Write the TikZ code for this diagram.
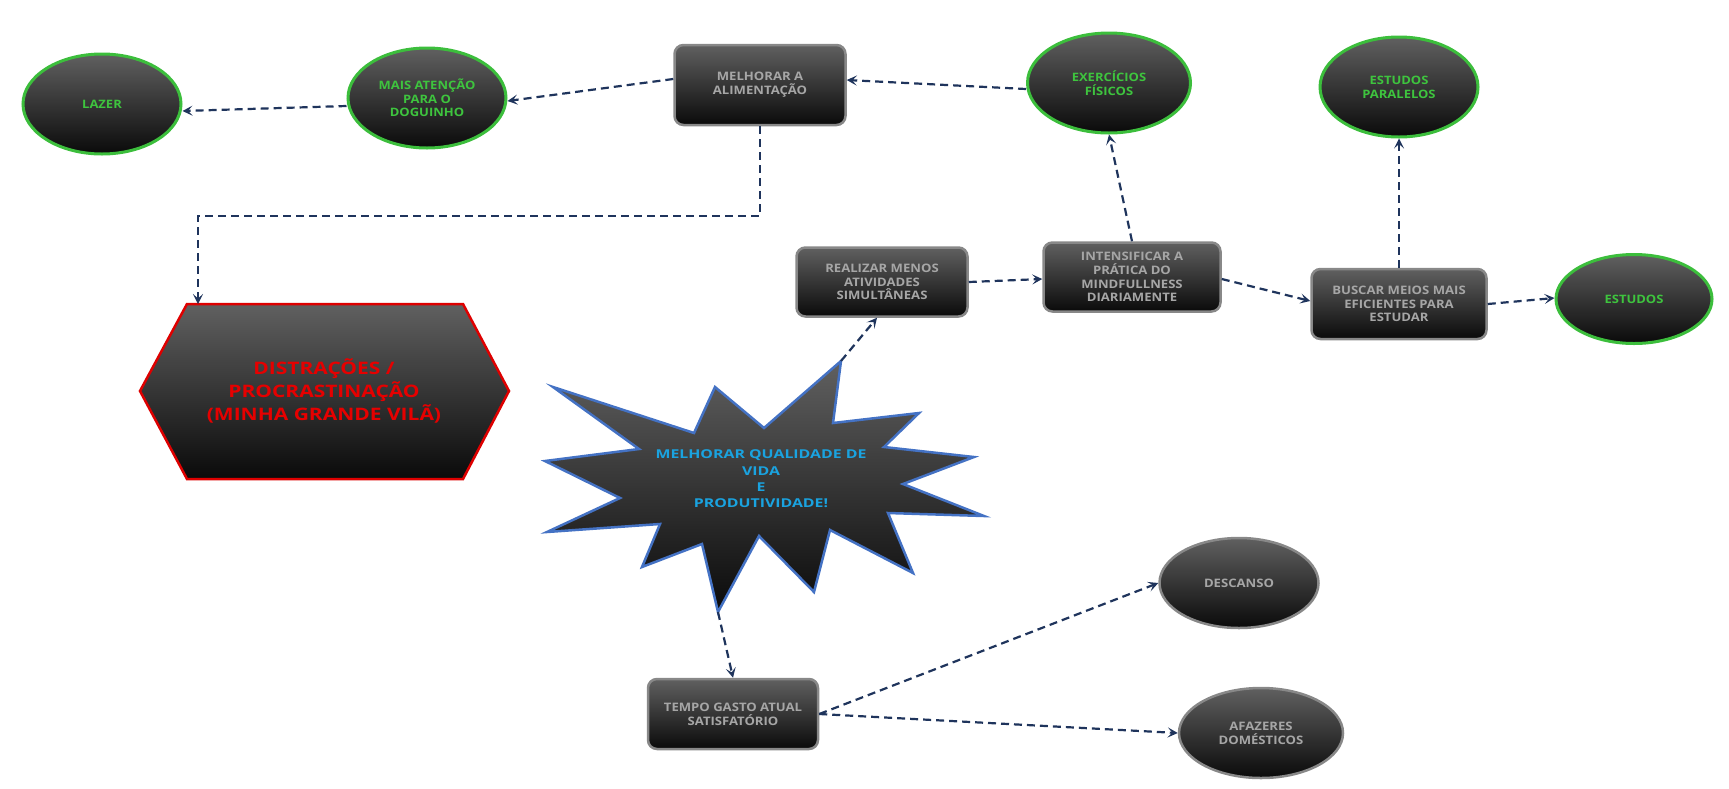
\documentclass[tikz,border=0pt]{standalone}
\usepackage{fontspec}
\setmainfont{Open Sans}
\newfontfamily\boxfont[FakeStretch=1.12]{Open Sans}
\newfontfamily\starfont[FakeStretch=1.3]{Open Sans}
\newfontfamily\hexfont[FakeStretch=1.22]{Open Sans}
\usetikzlibrary{shapes.geometric,arrows.meta,calc}
\definecolor{navy}{RGB}{31,52,92}
\definecolor{topgray}{RGB}{96,96,96}
\definecolor{botgray}{RGB}{10,10,10}
\definecolor{grnline}{RGB}{60,190,60}
\definecolor{grntext}{RGB}{62,196,62}
\definecolor{boxline}{RGB}{136,136,136}
\definecolor{boxtext}{RGB}{166,166,166}
\definecolor{redline}{RGB}{222,0,0}
\definecolor{redtext}{RGB}{230,0,0}
\definecolor{blueline}{RGB}{68,114,196}
\definecolor{bluetext}{RGB}{26,163,224}
\begin{document}
\begin{tikzpicture}[x=1pt,y=-1pt,
  darkfill/.style={top color=topgray, bottom color=botgray},
  greenell/.style={ellipse, draw=grnline, line width=3pt, darkfill, text=grntext,
    minimum width=158pt, minimum height=100pt, inner sep=0pt, align=center,
    font=\boxfont\fontsize{11.6}{13.7}\selectfont\bfseries},
  grayell/.style={ellipse, draw=boxline, line width=2.5pt, darkfill, text=boxtext,
    minimum width=160pt, minimum height=90pt, inner sep=0pt, align=center,
    font=\boxfont\fontsize{11.7}{13.7}\selectfont\bfseries},
  stepbox/.style={rectangle, rounded corners=9pt, draw=boxline, line width=2.5pt, darkfill,
    text=boxtext, inner sep=0pt, align=center, minimum height=69pt,
    font=\boxfont\fontsize{11.7}{13.7}\selectfont\bfseries},
  conn/.style={navy, line width=2.2pt, dash pattern=on 8pt off 5pt,
    -{Stealth[length=10pt,width=10pt,inset=4.5pt]}}
]
\useasboundingbox (0,0) rectangle (1729,788);

% ellipses
\node[greenell, minimum width=158pt] (lazer) at (102,104) {LAZER};
\node[greenell] (mais) at (427,98) {MAIS ATENÇÃO\\PARA O\\DOGUINHO};
\node[greenell, minimum width=163pt] (exer) at (1109,83) {EXERCÍCIOS\\FÍSICOS};
\node[greenell] (par) at (1399,87) {ESTUDOS\\PARALELOS};
\node[greenell, minimum height=89pt, minimum width=156pt] (est) at (1634,299) {ESTUDOS};
\node[grayell, minimum width=159pt] (desc) at (1239,583) {DESCANSO};
\node[grayell, minimum width=164pt] (afaz) at (1261,733) {AFAZERES\\DOMÉSTICOS};

% boxes
\node[stepbox, minimum width=171pt, minimum height=80pt] (alim) at (760,85) {MELHORAR A\\ALIMENTAÇÃO};
\node[stepbox, minimum width=171pt] (real) at (882,282) {REALIZAR MENOS\\ATIVIDADES\\SIMULTÂNEAS};
\node[stepbox, minimum width=177pt] (intens) at (1132,277) {INTENSIFICAR A\\PRÁTICA DO\\MINDFULLNESS\\DIARIAMENTE};
\node[stepbox, minimum width=175pt, minimum height=70pt] (busc) at (1399,304) {BUSCAR MEIOS MAIS\\EFICIENTES PARA\\ESTUDAR};
\node[stepbox, minimum width=170pt, minimum height=70pt] (tempo) at (733,714) {TEMPO GASTO ATUAL\\SATISFATÓRIO};

% hexagon
\path[draw=redline, line width=2.5pt, darkfill, line join=miter]
  (140,391) -- (187,304) -- (463,304) -- (509,391) -- (463,479) -- (187,479) -- cycle;
\node[text=redtext, align=center, font=\hexfont\fontsize{17.2}{23}\selectfont\bfseries] (hex) at (324,391)
  {DISTRAÇÕES /\\PROCRASTINAÇÃO\\(MINHA GRANDE VILÃ)};
\coordinate (hextop) at (198,304);
\coordinate (turn) at (198,216);

% starburst
\path[draw=blueline, line width=2.5pt, darkfill, line join=miter]
  (841,361) -- (833,423) -- (919,413) -- (884,447) -- (974,457) -- (903,484) --
  (984,516) -- (888,513) -- (913,573) -- (830,530) -- (814,592) -- (759,536) --
  (718,612) -- (702,544) -- (642,567) -- (660,524) -- (547,532) -- (620,498) --
  (545,461) -- (639,449) -- (553,387) -- (694,433) -- (715,387) -- (764,428) -- cycle;
\node[text=bluetext, align=center, font=\starfont\fontsize{12.2}{16.3}\selectfont\bfseries] (star) at (761,479)
  {MELHORAR QUALIDADE DE\\VIDA\\E\\PRODUTIVIDADE!};
\coordinate (startop) at (841,361);
\coordinate (starbot) at (718,612);

% connectors
\draw[conn] ([yshift=6pt]alim.west) -- ([yshift=-3pt]mais.east);
\draw[conn] ([yshift=-8pt]mais.west) -- ([yshift=-7pt]lazer.east);
\draw[conn] ([yshift=-6pt]exer.west) -- ([yshift=5pt]alim.east);
\draw[conn] (alim.south) |- (turn) -- (hextop);
\draw[conn] (intens.north) -- (exer.south);
\draw[conn] (real.east) -- ([yshift=-2pt]intens.west);
\draw[conn] ([yshift=-2pt]intens.east) -- ([yshift=3pt]busc.west);
\draw[conn] (busc.north) -- (par.south);
\draw[conn] (busc.east) -- ([yshift=1pt]est.west);
\draw[conn] (startop) -- ([xshift=-5pt]real.south);
\draw[conn] (starbot) -- (tempo.north);
\draw[conn] (tempo.east) -- (desc.west);
\draw[conn] (tempo.east) -- (afaz.west);
\end{tikzpicture}
\end{document}
